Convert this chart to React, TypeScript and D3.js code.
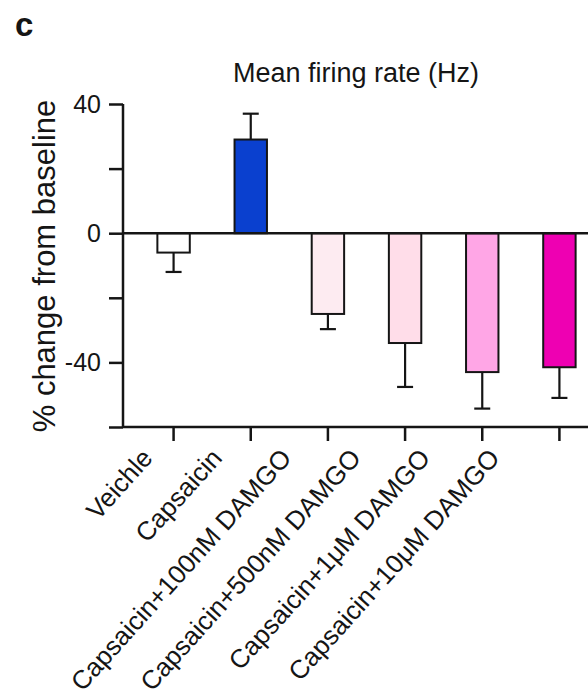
import React, { useRef, useEffect } from "react";
import * as d3 from "d3";

const categories = [
  "Veichle",
  "Capsaicin",
  "Capsaicin+100nM DAMGO",
  "Capsaicin+500nM DAMGO",
  "Capsaicin+1μM DAMGO",
  "Capsaicin+10μM DAMGO",
];
const means = [-6, 29, -25, -34, -43, -41.5];
const errors = [6, 8, 4.7, 13.6, 11.3, 9.5];
const colors = ["#ffffff", "#0a40cf", "#fdebf1", "#ffdde9", "#ffa6e6", "#ee00b2"];
const yTicks = [-60, -40, -20, 0, 20, 40];
const yTickLabels = ["", "-40", "", "0", "", "40"];

const FONT = "'Liberation Sans', Arial, sans-serif";

const App = () => {
  const svgRef = useRef<SVGSVGElement>(null);

  useEffect(() => {
    const svg = d3.select(svgRef.current);
    svg.selectAll("*").remove();

    const width = 588;
    const height = 700;
    const axisX = 123;
    const ink = "#151515";

    const x = d3
      .scaleBand()
      .domain(categories)
      .range([135, 598])
      .paddingInner(0.58)
      .paddingOuter(0.29);

    // labels in the figure sit on a slightly tighter spacing than the ticks
    const labelX = d3.scalePoint().domain(categories).range([154, 501]);

    const y = d3.scaleLinear().domain([-60, 40]).range([427, 104]);

    svg.attr("width", width).attr("height", height);

    // panel letter
    svg
      .append("text")
      .attr("x", 15)
      .attr("y", 36)
      .attr("font-family", FONT)
      .attr("font-weight", "bold")
      .attr("font-size", 33)
      .attr("fill", ink)
      .text("c");

    // title
    svg
      .append("text")
      .attr("x", 356)
      .attr("y", 82)
      .attr("text-anchor", "middle")
      .attr("font-family", FONT)
      .attr("font-size", 27)
      .attr("fill", ink)
      .text("Mean firing rate (Hz)");

    // y label
    svg
      .append("text")
      .attr("transform", `translate(55, 266) rotate(-90)`)
      .attr("text-anchor", "middle")
      .attr("font-family", FONT)
      .attr("font-size", 31)
      .attr("fill", ink)
      .text("% change from baseline");

    // bars
    const bw = x.bandwidth();
    svg
      .append("g")
      .selectAll("rect")
      .data(categories)
      .enter()
      .append("rect")
      .attr("x", (d) => x(d)!)
      .attr("y", (d, i) => Math.min(y(means[i]), y(0)))
      .attr("width", bw)
      .attr("height", (d, i) => Math.abs(y(means[i]) - y(0)))
      .attr("fill", (d, i) => colors[i])
      .attr("stroke", ink)
      .attr("stroke-width", 2);

    // error bars (one-sided, away from zero)
    const eb = svg.append("g").attr("stroke", ink).attr("stroke-width", 2.2);
    categories.forEach((c, i) => {
      const cx = x(c)! + bw / 2;
      const sign = means[i] < 0 ? -1 : 1;
      const y0 = y(means[i]);
      const y1 = y(means[i] + sign * errors[i]);
      eb.append("line").attr("x1", cx).attr("x2", cx).attr("y1", y0).attr("y2", y1);
      eb.append("line")
        .attr("x1", cx - 8)
        .attr("x2", cx + 8)
        .attr("y1", y1)
        .attr("y2", y1);
    });

    // y axis
    const yAxis = svg
      .append("g")
      .attr("transform", `translate(${axisX},0)`)
      .call(
        d3
          .axisLeft(y)
          .tickValues(yTicks)
          .tickSize(14)
          .tickPadding(8)
          .tickFormat((d, i) => yTickLabels[i])
      );
    yAxis.select(".domain").attr("stroke", ink).attr("stroke-width", 2.5).attr("d", `M0,${y(40)}V${y(-60)}`);
    yAxis.selectAll(".tick line").attr("stroke", ink).attr("stroke-width", 2.5);
    yAxis
      .selectAll(".tick text")
      .attr("font-family", FONT)
      .attr("font-size", 25)
      .attr("fill", ink);

    // zero line
    svg
      .append("line")
      .attr("x1", axisX)
      .attr("x2", width)
      .attr("y1", y(0))
      .attr("y2", y(0))
      .attr("stroke", ink)
      .attr("stroke-width", 2.5);

    // x axis
    const xAxis = svg
      .append("g")
      .attr("transform", `translate(0,${y(-60)})`)
      .call(d3.axisBottom(x).tickSize(14).tickFormat(() => ""));
    xAxis.select(".domain").attr("stroke", ink).attr("stroke-width", 2.5).attr("d", `M${axisX},0H${width}`);
    xAxis.selectAll(".tick line").attr("stroke", ink).attr("stroke-width", 2.5);

    // rotated category labels
    svg
      .append("g")
      .selectAll("text")
      .data(categories)
      .enter()
      .append("text")
      .attr("transform", (d) => `translate(${labelX(d)}, 459) rotate(-48)`)
      .attr("text-anchor", "end")
      .attr("font-family", FONT)
      .attr("font-size", 26)
      .attr("fill", ink)
      .text((d) => d);
  }, []);

  return (
    <svg
      ref={svgRef}
      style={{ position: "absolute", left: 0, top: 0, background: "#fff" }}
    ></svg>
  );
};

export default App;
